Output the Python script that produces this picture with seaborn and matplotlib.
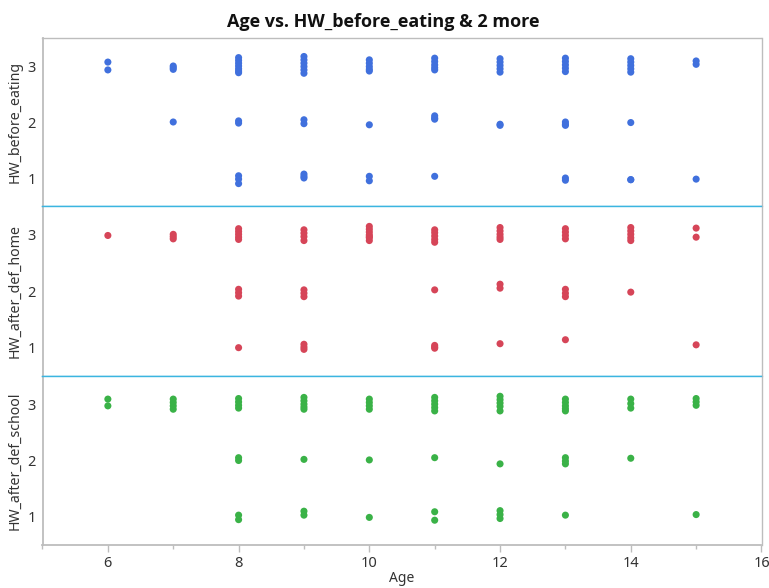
import matplotlib
matplotlib.use("Agg")
import matplotlib.pyplot as plt
import seaborn as sns
import pandas as pd
from matplotlib.ticker import MultipleLocator

sns.set_theme(style="white")
plt.rcParams['font.family'] = ['Noto Sans', 'DejaVu Sans']

title = "Age vs. HW_before_eating & 2 more"
x_label = "Age"
panel_names = ["HW_before_eating", "HW_after_def_home", "HW_after_def_school"]
panel_colors = ["#4070DD", "#D64558", "#3AB247"]

# Points (age, jittered response)
before_age = [6, 6,
              7, 7, 7, 7,
              8, 8, 8, 8, 8, 8, 8, 8, 8, 8, 8, 8,
              9, 9, 9, 9, 9, 9, 9, 9, 9, 9, 9,
              10, 10, 10, 10, 10, 10, 10, 10,
              11, 11, 11, 11, 11, 11, 11, 11, 11,
              12, 12, 12, 12, 12, 12, 12,
              13, 13, 13, 13, 13, 13, 13, 13, 13, 13,
              14, 14, 14, 14, 14, 14, 14, 14,
              15, 15, 15]
before_val = [3.07, 2.93,
              3.00, 2.97, 2.94, 2.00,
              3.15, 3.10, 3.05, 3.00, 2.95, 2.91, 2.88, 2.02, 1.98, 1.04, 0.98, 0.90,
              3.17, 3.11, 3.05, 2.99, 2.93, 2.87, 2.04, 1.97, 1.07, 1.03, 1.00,
              3.11, 3.05, 2.99, 2.94, 2.91, 1.95, 1.03, 0.95,
              3.14, 3.08, 3.02, 2.97, 2.93, 2.11, 2.07, 2.05, 1.03,
              3.13, 3.07, 3.01, 2.95, 2.89, 1.96, 1.94,
              3.14, 3.08, 3.02, 2.96, 2.90, 2.00, 1.96, 1.94, 1.00, 0.96,
              3.13, 3.07, 3.01, 2.95, 2.89, 1.99, 0.97, 0.97,
              3.09, 3.03, 0.98]

home_age = [6,
            7, 7, 7,
            8, 8, 8, 8, 8, 8, 8, 8, 8,
            9, 9, 9, 9, 9, 9, 9, 9, 9, 9,
            10, 10, 10, 10, 10, 10, 10,
            11, 11, 11, 11, 11, 11, 11, 11, 11,
            12, 12, 12, 12, 12, 12, 12, 12,
            13, 13, 13, 13, 13, 13, 13, 13,
            14, 14, 14, 14, 14, 14,
            15, 15, 15]
home_val = [2.98,
            3.00, 2.96, 2.92,
            3.10, 3.05, 3.00, 2.95, 2.91, 2.03, 1.97, 1.91, 1.00,
            3.08, 3.02, 2.96, 2.89, 2.02, 1.96, 1.90, 1.06, 1.01, 0.97,
            3.14, 3.09, 3.04, 2.99, 2.94, 2.89, 2.96,
            3.08, 3.03, 2.97, 2.91, 2.86, 2.02, 1.04, 0.99, 1.01,
            3.12, 3.06, 3.00, 2.95, 2.91, 2.12, 2.05, 1.07,
            3.10, 3.04, 2.98, 2.92, 2.03, 1.96, 1.90, 1.14,
            3.12, 3.06, 3.00, 2.94, 2.89, 1.98,
            3.11, 2.95, 1.05]

school_age = [6, 6,
              7, 7, 7, 7,
              8, 8, 8, 8, 8, 8, 8, 8,
              9, 9, 9, 9, 9, 9, 9, 9,
              10, 10, 10, 10, 10, 10,
              11, 11, 11, 11, 11, 11, 11, 11,
              12, 12, 12, 12, 12, 12, 12, 12, 12,
              13, 13, 13, 13, 13, 13, 13, 13, 13,
              14, 14, 14, 14,
              15, 15, 15, 15]
school_val = [3.09, 2.97,
              3.09, 3.03, 2.97, 2.91,
              3.10, 3.04, 2.98, 2.93, 2.05, 2.00, 1.03, 0.95,
              3.12, 3.06, 3.00, 2.95, 2.91, 2.02, 1.10, 1.03,
              3.09, 3.03, 2.97, 2.91, 2.01, 0.99,
              3.12, 3.06, 3.00, 2.94, 2.88, 2.05, 1.09, 0.94,
              3.14, 3.08, 3.02, 2.96, 2.88, 1.94, 1.11, 1.04, 0.97,
              3.09, 3.03, 2.97, 2.92, 2.88, 2.05, 1.99, 1.94, 1.03,
              3.09, 3.01, 2.93, 2.04,
              3.10, 3.04, 2.98, 1.04]

x_ticks = [6, 8, 10, 12, 14, 16]
y_ticks = [1, 2, 3]

frames = [
    pd.DataFrame({"Age": before_age, "val": before_val}),
    pd.DataFrame({"Age": home_age, "val": home_val}),
    pd.DataFrame({"Age": school_age, "val": school_val}),
]

W, H = 769, 588
fig = plt.figure(figsize=(W / 100, H / 100), dpi=100)

left_px, right_px = 42.5, 761.5
bounds = [(38, 206), (206, 376), (376, 545)]
gray = "#BDBDBD"
cyan = "#3BB5E0"
axes = []
for i, (top, bot) in enumerate(bounds):
    ax = fig.add_axes([left_px / W, 1 - bot / H, (right_px - left_px) / W, (bot - top) / H])
    axes.append(ax)
    sns.scatterplot(data=frames[i], x="Age", y="val", ax=ax, color=panel_colors[i],
                    s=26, edgecolor="none", linewidth=0, legend=False)
    ax.set_xlim(5, 16)
    ax.set_ylim(0.5, 3.5)
    ax.set_yticks(y_ticks)
    ax.set_yticklabels([str(t) for t in y_ticks], fontsize=10.5, color="#333333")
    ax.tick_params(axis="y", length=0, pad=5)
    ax.set_ylabel(panel_names[i], fontsize=10.2, color="#333333")
    for side in ["top", "bottom", "left", "right"]:
        ax.spines[side].set_visible(True)
        ax.spines[side].set_linewidth(1.0)
    ax.spines["left"].set_color(gray)
    ax.spines["right"].set_color(gray)
    ax.spines["top"].set_color(cyan if i > 0 else gray)
    ax.spines["bottom"].set_color(cyan if i < 2 else gray)
    ax.spines["left"].set_linewidth(1.3)
    if i < 2:
        ax.set_xticks([])
        ax.set_xlabel("")
    else:
        ax.set_xticks(x_ticks)
        ax.set_xticklabels([str(t) for t in x_ticks], fontsize=10.5, color="#333333")
        ax.xaxis.set_minor_locator(MultipleLocator(1))
        ax.tick_params(axis="x", which="major", length=5, color=gray, width=1, pad=3, bottom=True)
        ax.tick_params(axis="x", which="minor", length=3, color=gray, width=1, bottom=True)
        ax.set_xlabel(x_label, fontsize=10, color="#333333", labelpad=0)
        ax.spines["bottom"].set_linewidth(1.3)

# align y labels
for ax in axes:
    ax.yaxis.set_label_coords(-0.028, 0.5)

fig.text(383 / W, 1 - 22 / H, title, ha="center", va="center",
         fontsize=13, fontweight="bold", color="#111111",
         family=["Open Sans", "DejaVu Sans"])

fig.savefig("out.png", dpi=100)
